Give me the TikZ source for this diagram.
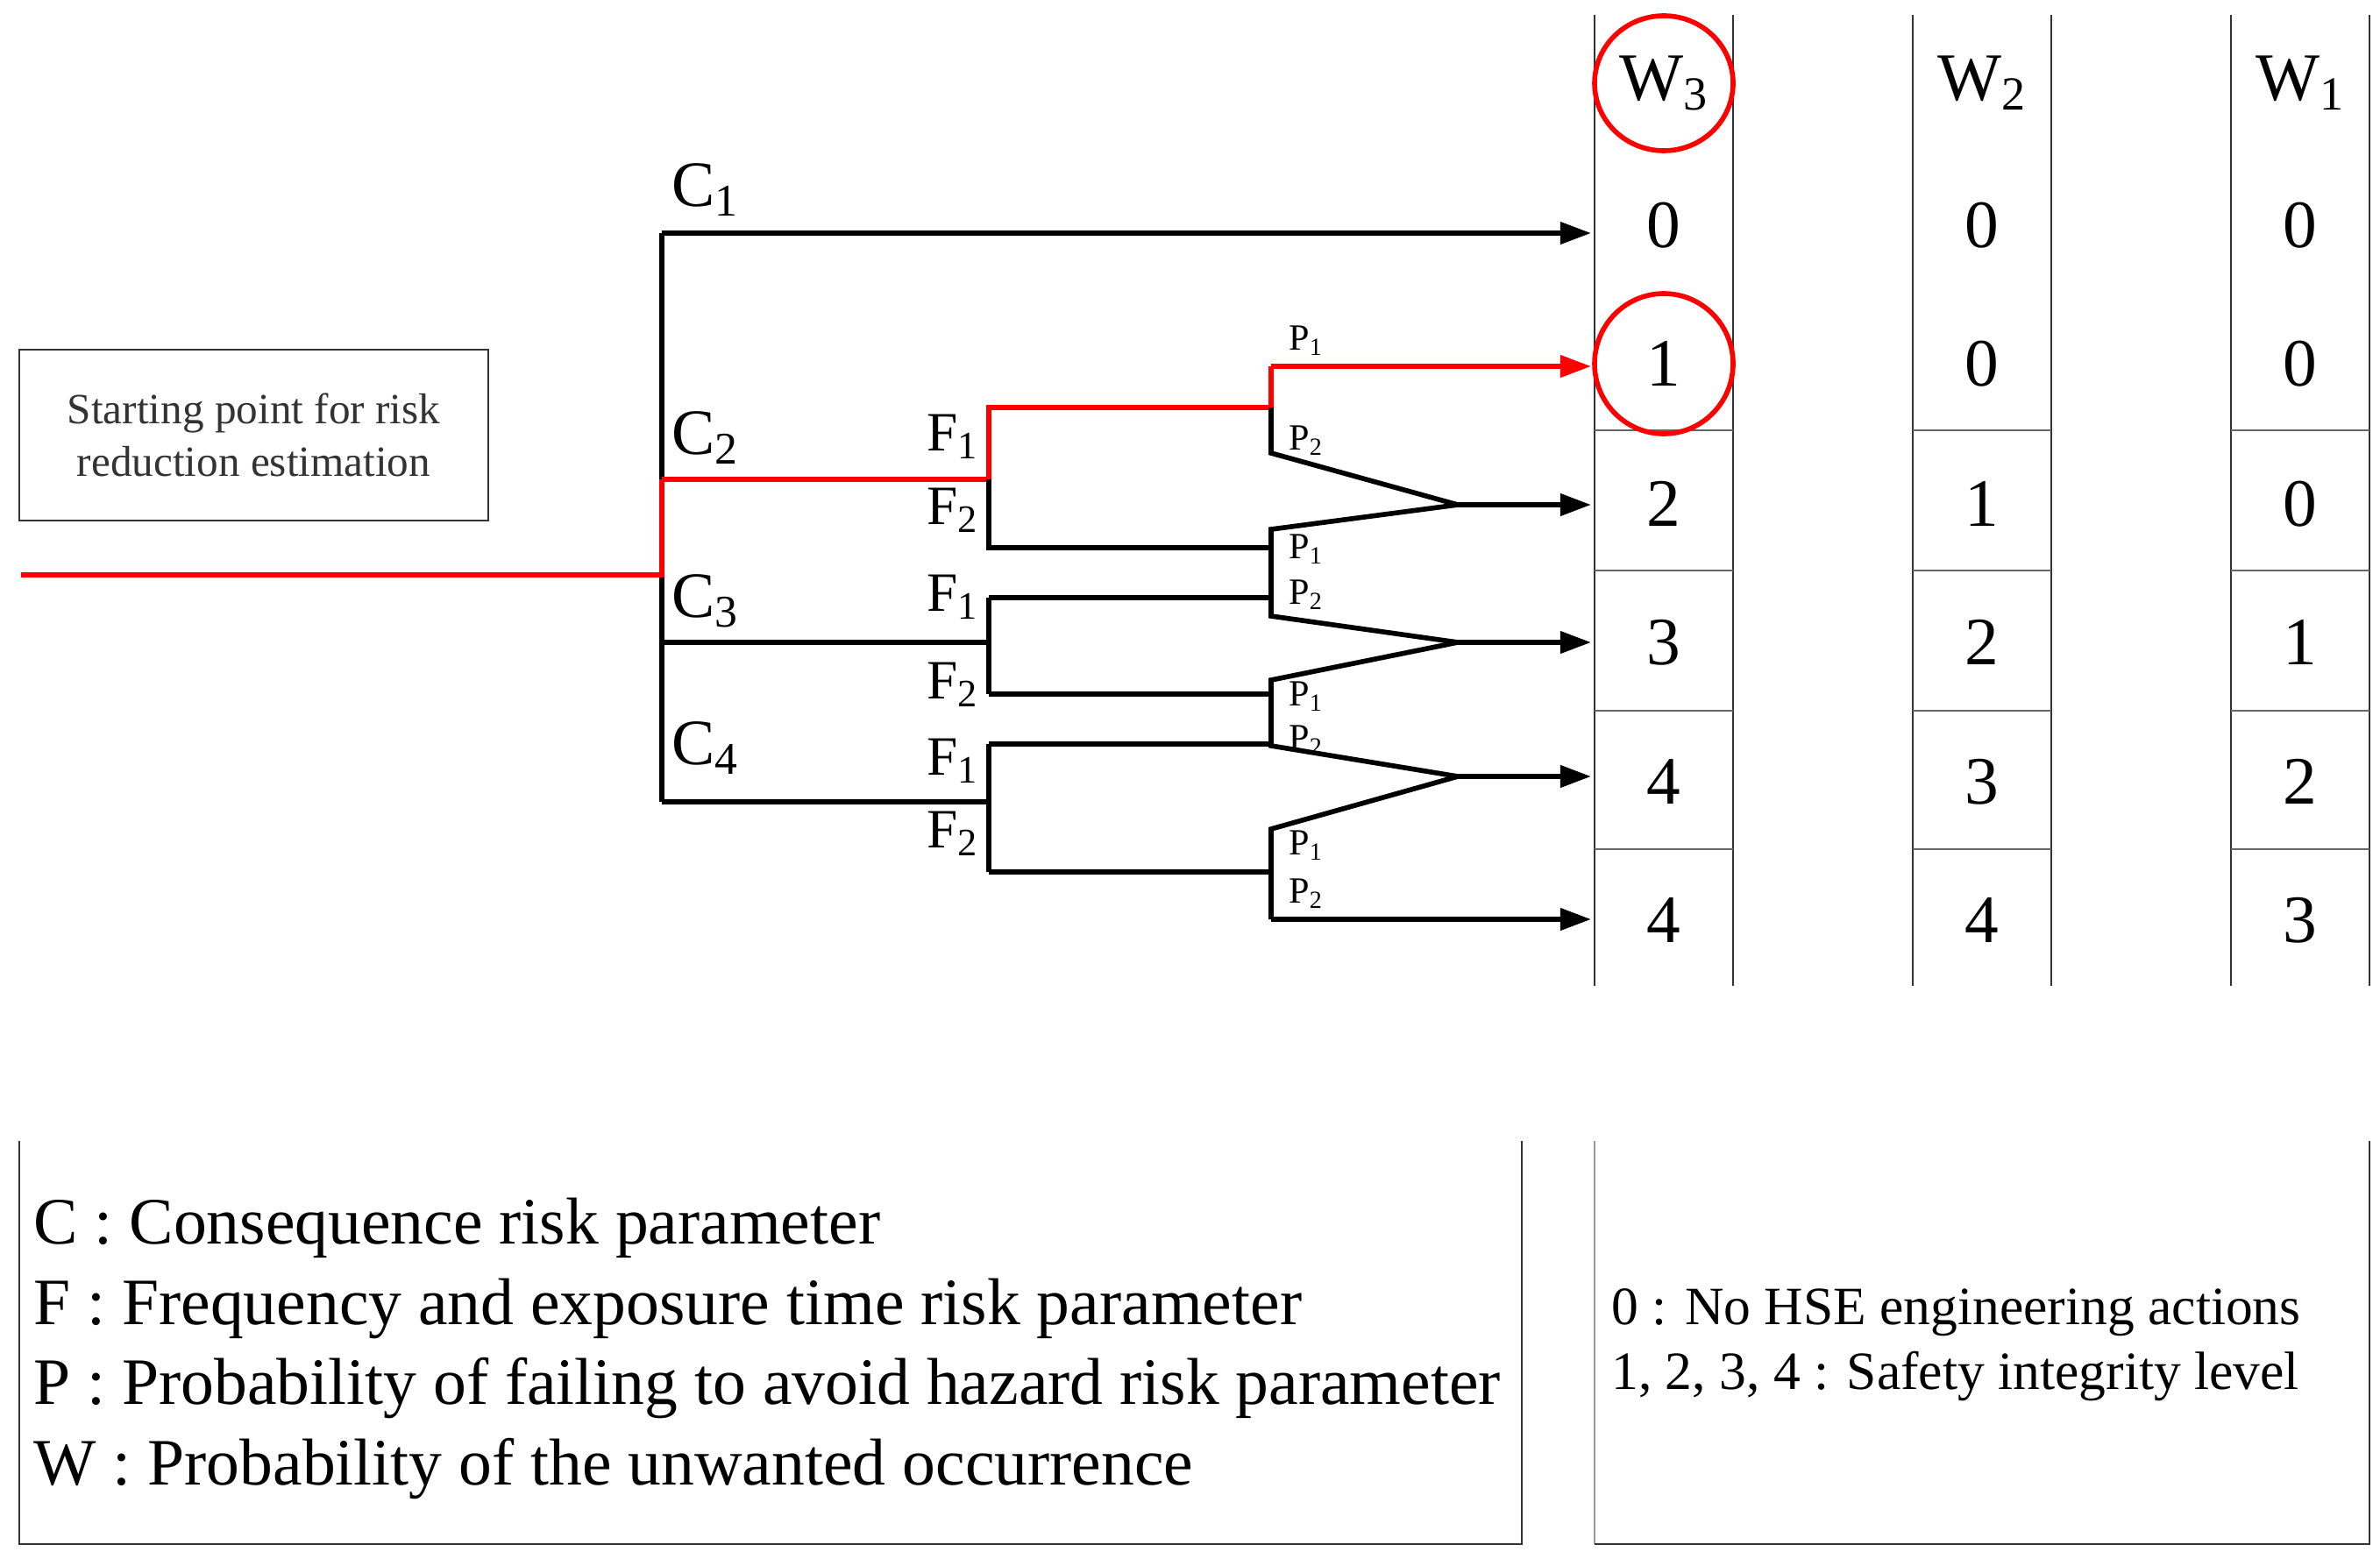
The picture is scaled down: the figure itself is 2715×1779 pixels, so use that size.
\documentclass[tikz,border=0pt]{standalone}
\usepackage{fontspec}
\setmainfont{Liberation Serif}
\usetikzlibrary{arrows.meta}
\begin{document}
\begin{tikzpicture}[x=0.01cm,y=-0.01cm,
  tr/.style={line width=1.6pt,line join=miter},
  rd/.style={tr,red},
  ar/.style={-{Triangle[length=10pt,width=7pt]}},
  tab/.style={line width=0.7pt,black!80},
  val/.style={font=\fontsize{22}{24}\selectfont},
  lc/.style={font=\fontsize{21}{23}\selectfont,anchor=center},
  lf/.style={font=\fontsize{18}{20}\selectfont,anchor=center},
  lp/.style={font=\fontsize{12}{13}\selectfont,anchor=center}]
\useasboundingbox (0,0) rectangle (2715,1779);
% table columns
\foreach \xa/\xb in {1819/1977,2182/2340,2545/2703}{
  \draw[tab] (\xa,17) -- (\xa,1125);
  \draw[tab] (\xb,17) -- (\xb,1125);
  \foreach \yy in {491,651,811,969} \draw[tab,black!60] (\xa,\yy) -- (\xb,\yy);
}
\node[val] (w3) at (1898,95) {W\textsubscript{3}};
\node[val] (w2) at (2261,95) {W\textsubscript{2}};
\node[val] (w1) at (2624,95) {W\textsubscript{1}};
\foreach \y/\a/\b/\c/\k in {257/0/0/0/1,415/1/0/0/2,575/2/1/0/3,733/3/2/1/4,892/4/3/2/5,1050/4/4/3/6}{
  \node[val] (a\k) at (1898,\y) {\a};
  \node[val] (b\k) at (2261,\y) {\b};
  \node[val] (c\k) at (2624,\y) {\c};
}
\draw[red,line width=1.6pt] (1898,95) ellipse (79 and 77);
\draw[red,line width=1.6pt] (1898,415) ellipse (79 and 80);
% start box
\node[draw,black!80,line width=0.7pt,minimum width=5.35cm,minimum height=1.95cm,
  font=\fontsize{14}{17}\selectfont,align=center] (start) at (289.5,496.5)
  {Starting point for risk\\reduction estimation};
% coordinates
\coordinate (in) at (24,656);
\coordinate (ct) at (755,266); \coordinate (cb) at (755,915);
\coordinate (cs) at (755,656);
\coordinate (e1) at (1815,266);
% C trunk
\draw[tr] (ct) -- (755,547);
\draw[tr] (755,656) -- (cb);
\draw[rd] (in) -- (cs) -- (755,547);
\draw[tr,ar] (ct) -- (e1);
% C2 red
\draw[rd] (755,547) -- (1128,547) -- (1128,465) -- (1450,465) -- (1450,418);
\draw[rd,ar] (1450,418) -- (1815,418);
\draw[tr] (1128,547) -- (1128,625) -- (1450,625);
% C3
\draw[tr] (755,733) -- (1128,733);
\draw[tr] (1128,682) -- (1128,792);
\draw[tr] (1128,682) -- (1450,682);
\draw[tr] (1128,792) -- (1450,792);
% C4
\draw[tr] (cb) -- (1128,915);
\draw[tr] (1128,849) -- (1128,995);
\draw[tr] (1128,849) -- (1450,849);
\draw[tr] (1128,995) -- (1450,995);
% P splits
\draw[tr] (1450,465) -- (1450,517) -- (1663,576);
\draw[tr,ar] (1663,576) -- (1815,576);
\draw[tr] (1663,576) -- (1450,604) -- (1450,703) -- (1663,733);
\draw[tr,ar] (1663,733) -- (1815,733);
\draw[tr] (1663,733) -- (1450,776) -- (1450,851) -- (1663,886);
\draw[tr,ar] (1663,886) -- (1815,886);
\draw[tr] (1663,886) -- (1450,946) -- (1450,1049);
\draw[tr,ar] (1450,1049) -- (1815,1049);
% labels
\node[lc] (c1) at (805,217) {C\textsubscript{1}};
\node[lc] (c2) at (805,500) {C\textsubscript{2}};
\node[lc] (c3) at (805,686) {C\textsubscript{3}};
\node[lc] (c4) at (805,854) {C\textsubscript{4}};
\foreach \y/\t/\k in {498/1/1,582/2/2,681/1/3,781/2/4,868/1/5,951/2/6}
  \node[lf] (f\k) at (1087,\y) {F\textsubscript{\t}};
\foreach \y/\t/\k in {389/1/1,503/2/2,627/1/3,679/2/4,795/1/5,845/2/6,965/1/7,1020/2/8}
  \node[lp] (p\k) at (1490,\y) {P\textsubscript{\t}};
% legend boxes
\draw[tab] (22,1302) -- (22,1762) -- (1736,1762) -- (1736,1302);
\draw[tab,black!40] (1819,1302) -- (1819,1762);
\draw[tab] (1819,1762) -- (2703,1762) -- (2703,1302);
\node[anchor=west,align=left,font=\fontsize{21.5}{26}\selectfont] (leg1) at (26,1539)
 {C : Consequence risk parameter\\F : Frequency and exposure time risk parameter\\P : Probability of failing to avoid hazard risk parameter\\W : Probability of the unwanted occurrence};
\node[anchor=west,align=left,font=\fontsize{17.5}{21}\selectfont] (leg2) at (1826,1535)
 {0 : No HSE engineering actions\\1, 2, 3, 4 : Safety integrity level};
\end{tikzpicture}
\end{document}
